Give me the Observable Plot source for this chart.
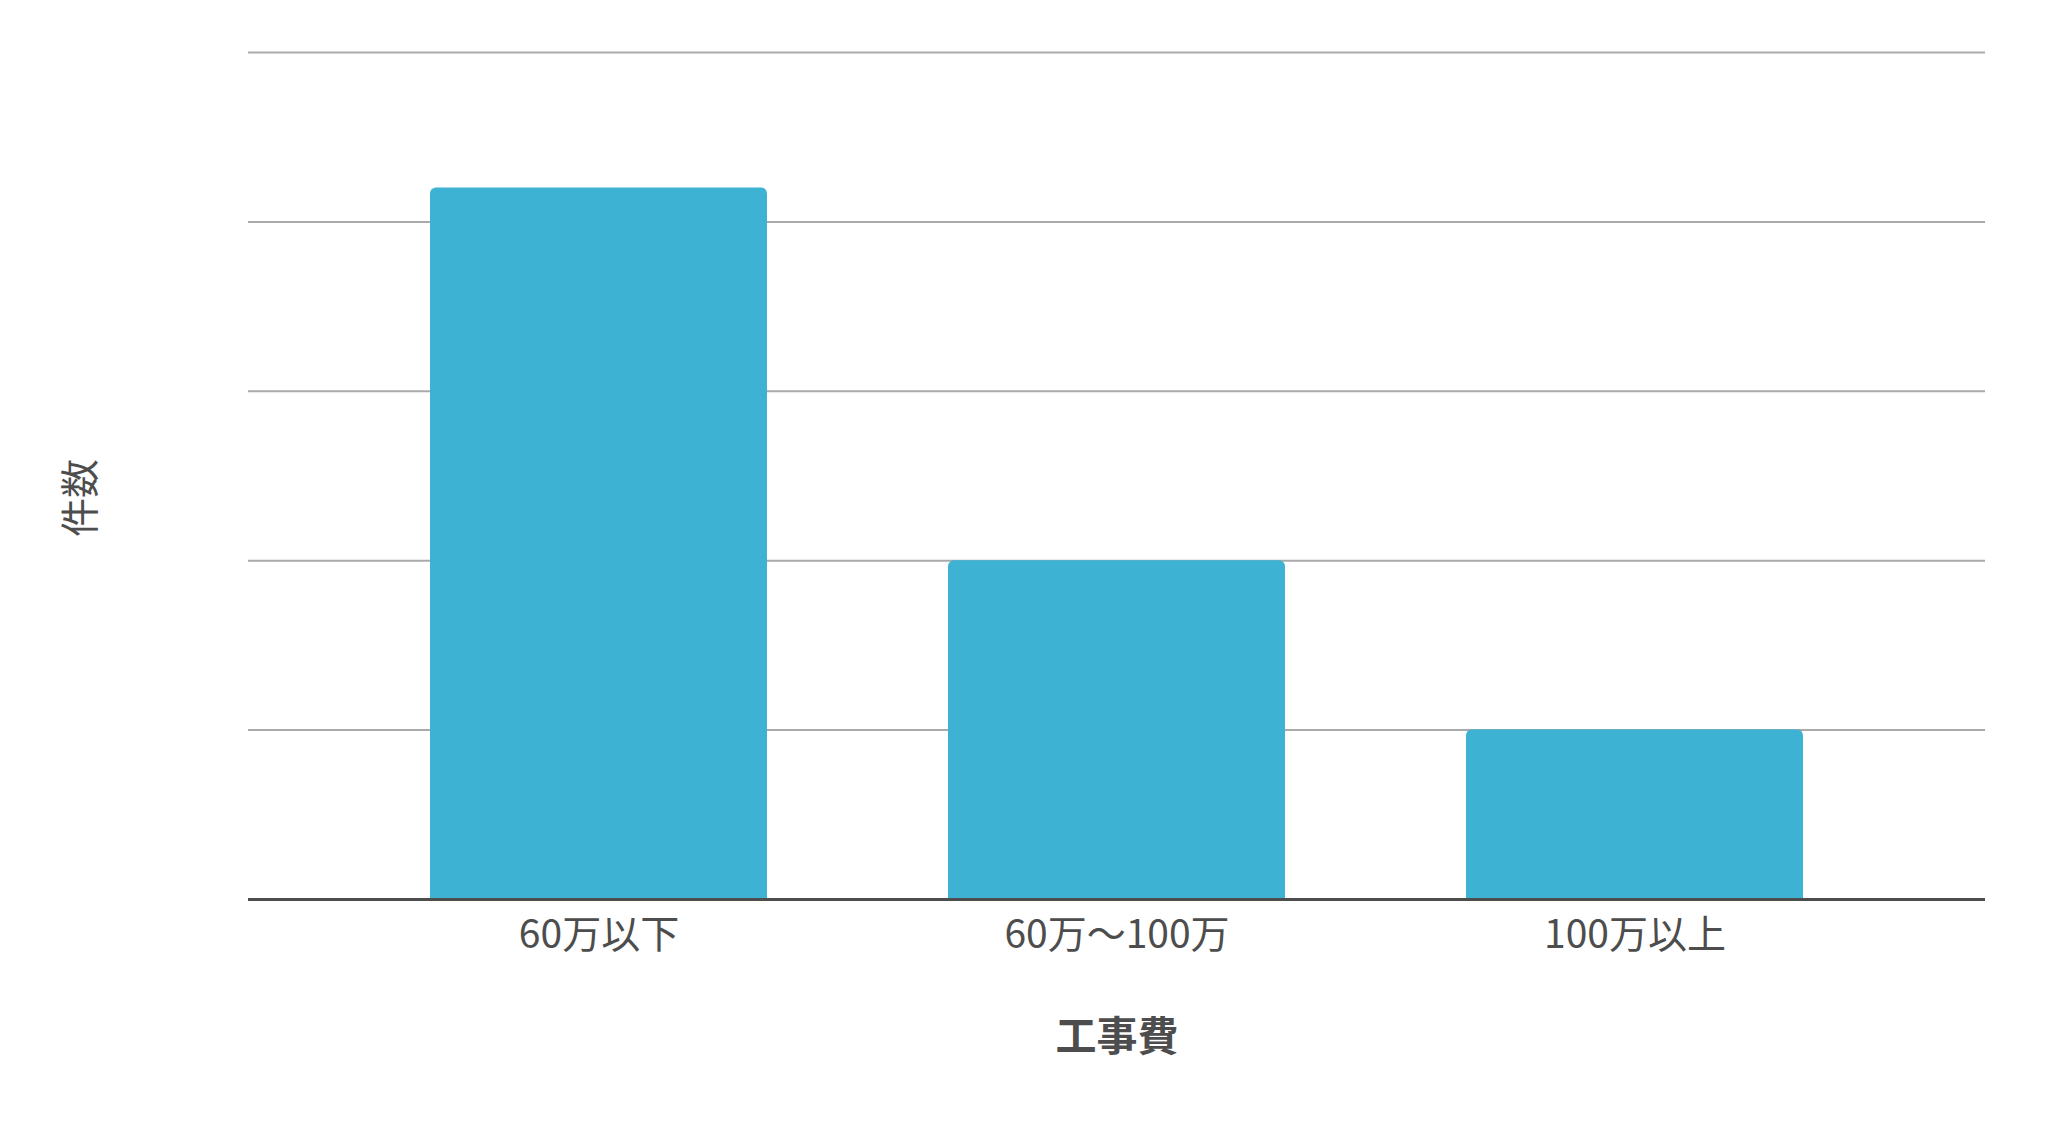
<!DOCTYPE html>
<html>
<head>
<meta charset="utf-8">
<script src="https://cdn.jsdelivr.net/npm/d3@7"></script>
<script src="https://cdn.jsdelivr.net/npm/@observablehq/plot@0.6"></script>
<style>
  html, body { margin: 0; padding: 0; background: #fff; }
  #chart svg { display: block; }
</style>
</head>
<body>
<div id="chart"></div>
<script>
const categories = ["60万以下", "60万～100万", "100万以上"];
const counts = [42, 20, 10];
const gridTicks = [10, 20, 30, 40, 50];
const xTitle = "工事費";
const yTitle = "件数";

const data = categories.map((c, i) => ({category: c, count: counts[i]}));
const font = "'Noto Sans CJK JP', 'Noto Sans', sans-serif";

const chart = Plot.plot({
  width: 2048,
  height: 1125,
  marginLeft: 248,
  marginRight: 63,
  marginTop: 52,
  marginBottom: 226,
  style: {fontFamily: font, background: "#fff"},
  x: {domain: categories, padding: 0.35, label: null},
  y: {domain: [0, 50], axis: null},
  marks: [
    Plot.ruleY(gridTicks, {stroke: "#aaaaaa", strokeWidth: 2}),
    Plot.barY(data, {x: "category", y: "count", fill: "#3db2d2", ry1: 6}),
    Plot.ruleY([0], {stroke: "#4d4d4d", strokeWidth: 3}),
    Plot.axisX({tickSize: 0, tickPadding: 21, fontSize: 39, fill: "#4d4d4d", label: null}),
    Plot.text([xTitle], {frameAnchor: "bottom", dy: 151, fontSize: 41, fontWeight: "bold", fill: "#4d4d4d"}),
    Plot.text([yTitle], {frameAnchor: "left", dx: -167, dy: 61, rotate: -90, fontSize: 39, fill: "#4d4d4d"})
  ]
});
document.getElementById("chart").appendChild(chart);
</script>
</body>
</html>
